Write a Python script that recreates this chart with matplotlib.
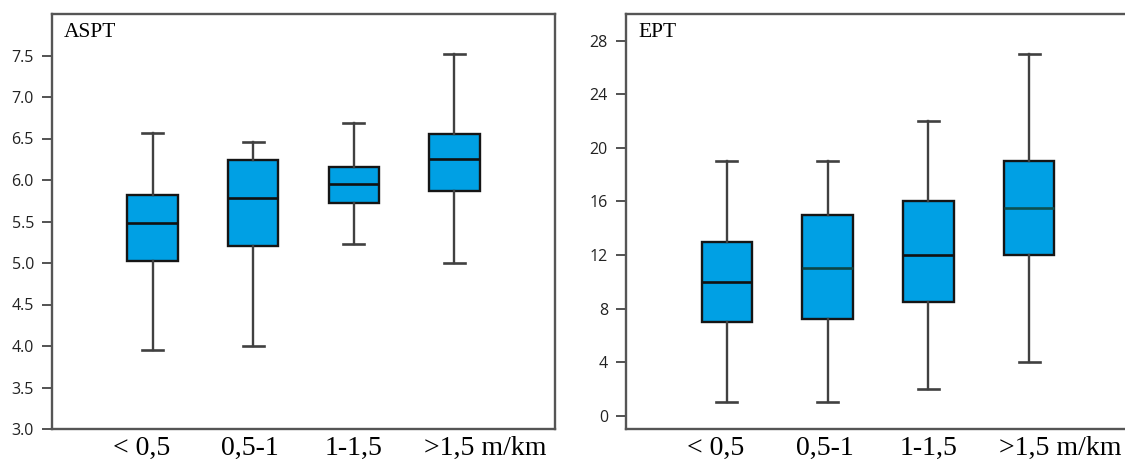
import matplotlib

matplotlib.use("Agg")
import matplotlib.pyplot as plt
import matplotlib.transforms as mtransforms

# slope classes (m/km)
categories = ["< 0,5", "0,5-1", "1-1,5", ">1,5 m/km"]

# five-number summaries per class: whisker low, Q1, median, Q3, whisker high
aspt_low = [3.95, 4.00, 5.23, 5.00]
aspt_q1 = [5.03, 5.20, 5.72, 5.87]
aspt_med = [5.48, 5.78, 5.95, 6.25]
aspt_q3 = [5.82, 6.24, 6.16, 6.55]
aspt_high = [6.57, 6.46, 6.69, 7.52]

ept_low = [1, 1, 2, 4]
ept_q1 = [7.0, 7.2, 8.5, 12.0]
ept_med = [10.0, 11.0, 12.0, 15.5]
ept_q3 = [13, 15, 16, 19]
ept_high = [19, 19, 22, 27]

aspt_ticks = [3.0, 3.5, 4.0, 4.5, 5.0, 5.5, 6.0, 6.5, 7.0, 7.5]
ept_ticks = [0, 4, 8, 12, 16, 20, 24, 28]

BOX_COLOR = "#00a0e4"
FRAME_COLOR = "#555555"
LABEL_SHIFT = [-11, -3, 0, 31]  # px, nudges the category labels sideways

W, H = 1125, 468


def make_stats(low, q1, med, q3, high):
    return [
        {"whislo": a, "q1": b, "med": c, "q3": d, "whishi": e, "fliers": []}
        for a, b, c, d, e in zip(low, q1, med, q3, high)
    ]


def draw_panel(ax, stats, title, yticks, ylim, fmt, median_colors):
    art = ax.bxp(
        stats,
        positions=range(1, len(stats) + 1),
        widths=0.5,
        capwidths=0.21,
        patch_artist=True,
        showfliers=False,
        boxprops=dict(facecolor=BOX_COLOR, edgecolor="#151515", linewidth=1.7),
        medianprops=dict(linewidth=1.9),
        whiskerprops=dict(color="#404040", linewidth=1.7),
        capprops=dict(color="#404040", linewidth=1.9),
    )
    for line, c in zip(art["medians"], median_colors):
        line.set_color(c)
    ax.set_xlim(0, 5)
    ax.set_ylim(*ylim)
    ax.set_yticks(yticks)
    ax.set_yticklabels([fmt.format(v) for v in yticks], fontsize=11.5,
                       family="Open Sans", color="#222222")
    ax.set_xticks(range(1, len(categories) + 1))
    ax.set_xticklabels(categories, fontsize=20, family="Liberation Serif")
    ax.tick_params(axis="x", length=0, pad=5)
    ax.tick_params(axis="y", length=7, width=1.3, color="#444444", pad=6)
    for s in ax.spines.values():
        s.set_color(FRAME_COLOR)
        s.set_linewidth(1.7)
    ax.text(12 / 503, 1 - 9 / 415, title, transform=ax.transAxes, ha="left",
            va="top", fontsize=15.5, family="Liberation Serif")
    for lbl, dx in zip(ax.get_xticklabels(), LABEL_SHIFT):
        lbl.set_transform(lbl.get_transform() +
                          mtransforms.ScaledTranslation(dx / 100, 0,
                                                        ax.figure.dpi_scale_trans))


fig = plt.figure(figsize=(W / 100, H / 100), dpi=100)
ax1 = fig.add_axes([52 / W, 1 - 429 / H, 503 / W, 415 / H])
ax2 = fig.add_axes([626 / W, 1 - 429 / H, 504 / W, 415 / H])

draw_panel(ax1, make_stats(aspt_low, aspt_q1, aspt_med, aspt_q3, aspt_high),
           "ASPT", aspt_ticks, (3.0, 8.0), "{:.1f}", ["#111111"] * 4)
draw_panel(ax2, make_stats(ept_low, ept_q1, ept_med, ept_q3, ept_high),
           "EPT", ept_ticks, (-1, 30), "{:d}",
           ["#111111", "#0d4545", "#111111", "#0d5050"])

fig.savefig("out.png", dpi=100)
